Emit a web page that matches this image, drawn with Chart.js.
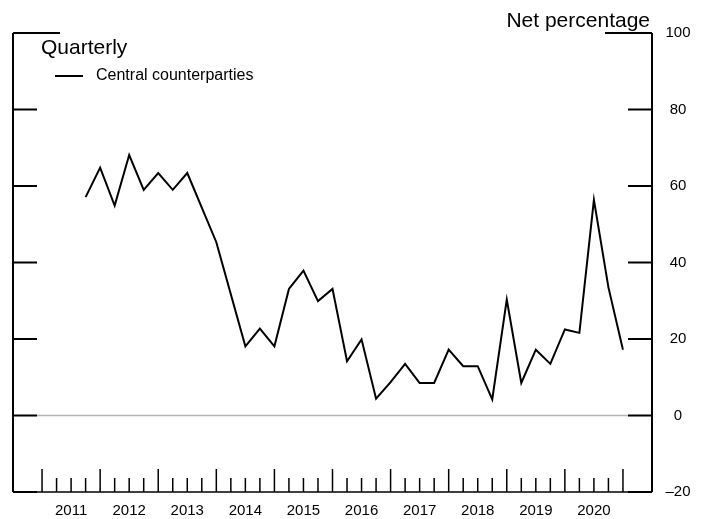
<!DOCTYPE html>
<html>
<head>
<meta charset="utf-8">
<script src="https://cdn.jsdelivr.net/npm/chart.js@4/dist/chart.umd.min.js"></script>
<style>
  body { margin: 0; background: #fff; }
  #chart { display: block; }
</style>
</head>
<body>
<canvas id="chart" width="709" height="519"></canvas>
<script>
// Quarterly net percentage, central counterparties
const quarterLabels = [
  '2011Q3','2011Q4','2012Q1','2012Q2','2012Q3','2012Q4','2013Q1','2013Q2','2013Q3','2013Q4',
  '2014Q1','2014Q2','2014Q3','2014Q4','2015Q1','2015Q2','2015Q3','2015Q4','2016Q1','2016Q2',
  '2016Q3','2016Q4','2017Q1','2017Q2','2017Q3','2017Q4','2018Q1','2018Q2','2018Q3','2018Q4',
  '2019Q1','2019Q2','2019Q3','2019Q4','2020Q1','2020Q2','2020Q3','2020Q4'
];
const ccpValues = [
  57.1, 64.8, 54.9, 68.1, 59.0, 63.4, 59.0, 63.4, null, 45.3,
  null, 18.1, 22.7, 18.1, 33.1, 37.9, 29.9, 33.1, 14.2, 19.9,
  4.4, 8.7, 13.5, 8.5, 8.5, 17.2, 12.9, 12.9, 4.2, 30.3,
  8.5, 17.2, 13.5, 22.5, 21.6, 56.4, 33.5, 17.2
];
const yearLabels = ['2011','2012','2013','2014','2015','2016','2017','2018','2019','2020'];
const yTicks = [100, 80, 60, 40, 20, 0, -20];

const FONT = '"Liberation Sans", Arial, sans-serif';

// quarter end position, counted in quarters from start of 2011
function qPos(label) {
  const yr = parseInt(label.slice(0, 4), 10);
  const q = parseInt(label.slice(5), 10);
  return (yr - 2011) * 4 + q;
}

const points = quarterLabels.map((l, i) => ({ x: qPos(l), y: ccpValues[i] }));

const framePlugin = {
  id: 'frame',
  afterDraw(chart) {
    const ctx = chart.ctx;
    const xs = chart.scales.x, ys = chart.scales.y;
    const L = xs.left, R = xs.right, T = ys.top, B = ys.bottom;
    ctx.save();
    ctx.lineCap = 'butt';

    // zero line
    ctx.strokeStyle = '#b4b4b4';
    ctx.lineWidth = 1.5;
    const y0 = ys.getPixelForValue(0);
    ctx.beginPath(); ctx.moveTo(L + 24, y0); ctx.lineTo(R - 23, y0); ctx.stroke();

    ctx.strokeStyle = '#000';
    // bottom line
    ctx.lineWidth = 1.5;
    ctx.beginPath(); ctx.moveTo(L, B); ctx.lineTo(R, B); ctx.stroke();

    // side lines
    ctx.lineWidth = 2;
    ctx.beginPath();
    ctx.moveTo(L, T); ctx.lineTo(L, B);
    ctx.moveTo(R, T); ctx.lineTo(R, B);
    ctx.stroke();

    // y ticks both sides, pointing inward
    yTicks.forEach(v => {
      const y = ys.getPixelForValue(v);
      const len = v === 100 ? 47 : 24;
      ctx.beginPath();
      ctx.moveTo(L, y); ctx.lineTo(L + len, y);
      ctx.moveTo(R, y); ctx.lineTo(R - len, y);
      ctx.stroke();
    });

    // x ticks
    ctx.lineWidth = 1.5;
    for (let q = 0; q <= 40; q++) {
      const x = xs.getPixelForValue(q);
      const h = q % 4 === 0 ? 23 : 14;
      ctx.beginPath(); ctx.moveTo(x, B); ctx.lineTo(x, B - h); ctx.stroke();
    }

    // labels
    ctx.fillStyle = '#000';
    ctx.font = '15px ' + FONT;
    ctx.textAlign = 'center';
    ctx.textBaseline = 'middle';
    yTicks.forEach(v => {
      const txt = v < 0 ? '\u2013' + Math.abs(v) : String(v);
      ctx.fillText(txt, R + 26, ys.getPixelForValue(v));
    });
    yearLabels.forEach((yr, i) => {
      ctx.fillText(yr, xs.getPixelForValue(i * 4 + 2), B + 19);
    });

    // titles
    ctx.font = '21px ' + FONT;
    ctx.textBaseline = 'alphabetic';
    ctx.textAlign = 'left';
    ctx.fillText('Quarterly', 41, 54);
    ctx.textAlign = 'right';
    ctx.fillText('Net percentage', 650, 27);

    // legend
    const ds = chart.data.datasets[0];
    ctx.lineWidth = 2;
    ctx.beginPath(); ctx.moveTo(55, 76); ctx.lineTo(83, 76); ctx.stroke();
    ctx.font = '16px ' + FONT;
    ctx.textAlign = 'left';
    ctx.textBaseline = 'middle';
    ctx.fillText(ds.label, 96, 76);
    ctx.restore();
  }
};

new Chart(document.getElementById('chart'), {
  type: 'line',
  data: {
    datasets: [{
      label: 'Central counterparties',
      data: points,
      borderColor: '#000',
      borderWidth: 2,
      pointRadius: 0,
      tension: 0,
      spanGaps: true,
      borderJoinStyle: 'miter'
    }]
  },
  options: {
    responsive: false,
    devicePixelRatio: 1,
    animation: false,
    layout: { padding: { left: 13, right: 57, top: 33, bottom: 27 } },
    plugins: { legend: { display: false }, tooltip: { enabled: false } },
    scales: {
      x: { type: 'linear', min: -2, max: 42, display: false },
      y: { type: 'linear', min: -20, max: 100, display: false }
    }
  },
  plugins: [framePlugin]
});
</script>
</body>
</html>
